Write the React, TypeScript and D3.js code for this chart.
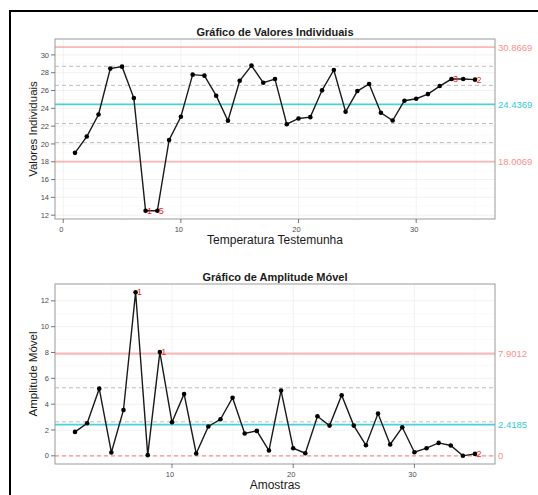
import React from "react";
import * as d3 from "d3";

// valores (amostras 1..35)
const individuais = [
  19.0, 20.83, 23.31, 28.46, 28.68, 25.15, 12.49, 12.49, 20.45, 23.05, 27.78,
  27.67, 25.42, 22.6, 27.1, 28.8, 26.88, 27.29, 22.22, 22.86, 23.01, 26.02,
  28.31, 23.61, 25.94, 26.73, 23.5, 22.63, 24.85, 25.08, 25.6, 26.5, 27.29,
  27.29, 27.22,
];
// amplitude móvel (amostras 2..35)
const amplitudes = [
  1.85, 2.52, 5.2, 0.26, 3.55, 12.67, 0.05, 8.03, 2.6, 4.79, 0.18, 2.27, 2.83,
  4.5, 1.73, 1.93, 0.41, 5.05, 0.59, 0.2, 3.06, 2.34, 4.69, 2.34, 0.82, 3.27,
  0.88, 2.21, 0.28, 0.59, 1.0, 0.8, 0.0, 0.15,
];

const limitesI = { lcl: 18.0069, cl: 24.4369, ucl: 30.8669 };
const limitesMR = { lcl: 0, cl: 2.4185, ucl: 7.9012 };

// linhas tracejadas (zonas 1 e 2 sigma)
const zonasI = [20.1502, 22.2936, 26.5802, 28.7236];
const zonasMR = [2.6337, 5.2675];

const violacoesI = [
  { amostra: 7, regra: "1" },
  { amostra: 8, regra: "5" },
  { amostra: 33, regra: "3" },
  { amostra: 35, regra: "2" },
];
const violacoesMR = [
  { amostra: 7, regra: "1" },
  { amostra: 9, regra: "1" },
  { amostra: 35, regra: "2" },
];

const ticksXI = [0, 10, 20, 30];
const ticksXMR = [10, 20, 30];
const ticksYI = [12, 14, 16, 18, 20, 22, 24, 26, 28, 30];
const ticksYMR = [0, 2, 4, 6, 8, 10, 12];

const FONT = "'Liberation Sans', Arial, sans-serif";
const RED = "#F8766D";
const CYAN = "#00BFC4";

type Ponto = { x: number; y: number };

const expand = (ext: [number, number]): [number, number] => {
  const p = (ext[1] - ext[0]) * 0.05;
  return [ext[0] - p, ext[1] + p];
};

function Painel({
  top,
  titulo,
  xLabel,
  yLabel,
  pontos,
  limites,
  zonas,
  lclDashed,
  violacoes,
  ticksX,
  ticksY,
}: {
  top: number;
  titulo: string;
  xLabel: string;
  yLabel: string;
  pontos: Ponto[];
  limites: { lcl: number; cl: number; ucl: number };
  zonas: number[];
  lclDashed: boolean;
  violacoes: { amostra: number; regra: string }[];
  ticksX: number[];
  ticksY: number[];
}) {
  const left = 55;
  const right = 495;
  const h = 180;
  const bottom = top + h;

  const x = d3
    .scaleLinear()
    .domain(expand(d3.extent(pontos, (d) => d.x) as [number, number]))
    .range([left, right]);
  const yVals = pontos.map((d) => d.y).concat([limites.lcl, limites.ucl]);
  const y = d3
    .scaleLinear()
    .domain(expand(d3.extent(yVals) as [number, number]))
    .range([bottom, top]);

  const [x0, x1] = x.domain();
  const [y0, y1] = y.domain();
  const minorX = d3.range(Math.ceil(x0 / 5) * 5, x1, 5).filter((v) => v % 10 !== 0);
  const minorY = d3.range(Math.ceil(y0), y1, 1).filter((v) => !ticksY.includes(v));

  const line = d3
    .line<Ponto>()
    .x((d) => x(d.x))
    .y((d) => y(d.y));

  const cx = (left + right) / 2;

  return (
    <g>
      <text x={cx} y={top - 3} textAnchor="middle" fontFamily={FONT} fontWeight="bold" fontSize={11} fill="#1a1a1a">
        {titulo}
      </text>
      <rect x={left} y={top} width={right - left} height={h} fill="#fff" />
      {minorX.map((v) => (
        <line key={"mx" + v} x1={x(v)} x2={x(v)} y1={top} y2={bottom} stroke="#f7f7f7" strokeWidth={0.6} />
      ))}
      {minorY.map((v) => (
        <line key={"my" + v} x1={left} x2={right} y1={y(v)} y2={y(v)} stroke="#f7f7f7" strokeWidth={0.6} />
      ))}
      {ticksX.map((v) => (
        <line key={"gx" + v} x1={x(v)} x2={x(v)} y1={top} y2={bottom} stroke="#eeeeee" strokeWidth={0.8} />
      ))}
      {ticksY.map((v) => (
        <line key={"gy" + v} x1={left} x2={right} y1={y(v)} y2={y(v)} stroke="#eeeeee" strokeWidth={0.8} />
      ))}
      {zonas.map((v, i) => (
        <line key={"z" + i} x1={left} x2={right} y1={y(v)} y2={y(v)} stroke="#bdbdbd" strokeWidth={1} strokeDasharray="4,3" />
      ))}
      <line x1={left} x2={right} y1={y(limites.ucl)} y2={y(limites.ucl)} stroke={RED} strokeOpacity={0.5} strokeWidth={1.8} />
      <line
        x1={left}
        x2={right}
        y1={y(limites.lcl)}
        y2={y(limites.lcl)}
        stroke={RED}
        strokeOpacity={lclDashed ? 0.8 : 0.5}
        strokeWidth={lclDashed ? 1.2 : 1.8}
        strokeDasharray={lclDashed ? "4,3" : undefined}
      />
      <line x1={left} x2={right} y1={y(limites.cl)} y2={y(limites.cl)} stroke={CYAN} strokeOpacity={0.7} strokeWidth={1.8} />
      <path d={line(pontos) || ""} fill="none" stroke="#1a1a1a" strokeWidth={1.4} />
      {pontos.map((d) => (
        <circle key={"p" + d.x} cx={x(d.x)} cy={y(d.y)} r={2.3} fill="#000" />
      ))}
      {violacoes.map((v) => {
        const p = pontos.find((d) => d.x === v.amostra)!;
        return (
          <text key={"v" + v.amostra} x={x(p.x) + 1.5} y={y(p.y)} dy="0.35em" fontFamily={FONT} fontSize={9} fill="#FF2020">
            {v.regra}
          </text>
        );
      })}
      <rect x={left} y={top} width={right - left} height={h} fill="none" stroke="#9a9a9a" strokeWidth={1} />
      {ticksY.map((v) => (
        <g key={"ty" + v}>
          <line x1={left - 4} x2={left} y1={y(v)} y2={y(v)} stroke="#555" strokeWidth={0.8} />
          <text x={left - 6} y={y(v)} dy="0.35em" textAnchor="end" fontFamily={FONT} fontSize={7.5} fill="#4d4d4d">
            {v}
          </text>
        </g>
      ))}
      {ticksX.map((v) => (
        <g key={"tx" + v}>
          <line x1={x(v)} x2={x(v)} y1={bottom} y2={bottom + 4} stroke="#555" strokeWidth={0.8} />
          <text x={x(v) - 2} y={bottom + 13} textAnchor="middle" fontFamily={FONT} fontSize={7.5} fill="#4d4d4d">
            {v}
          </text>
        </g>
      ))}
      {[
        { v: limites.ucl, c: "#FF8F8A", t: limites.ucl.toFixed(4) },
        { v: limites.cl, c: "#33CCD0", t: limites.cl.toFixed(4) },
        { v: limites.lcl, c: "#FF8F8A", t: limites.lcl === 0 ? "0" : limites.lcl.toFixed(4) },
      ].map((l) => (
        <text key={"l" + l.t} x={right + 3} y={y(l.v)} dy="0.35em" fontFamily={FONT} fontSize={9.5} fill={l.c}>
          {l.t}
        </text>
      ))}
      <text x={cx} y={bottom + 25} textAnchor="middle" fontFamily={FONT} fontSize={12} fill="#1a1a1a">
        {xLabel}
      </text>
      <text
        transform={`translate(${33},${(top + bottom) / 2}) rotate(-90)`}
        dy="0.35em"
        textAnchor="middle"
        fontFamily={FONT}
        fontSize={11.5}
        fill="#1a1a1a"
      >
        {yLabel}
      </text>
    </g>
  );
}

export default function App() {
  const pontosI = individuais.map((v, i) => ({ x: i + 1, y: v }));
  const pontosMR = amplitudes.map((v, i) => ({ x: i + 2, y: v }));
  return (
    <svg width={538} height={495} style={{ position: "absolute", left: 0, top: 0, background: "#fff" }}>
      <rect x={0} y={0} width={538} height={495} fill="#fff" />
      <line x1={10} x2={538} y1={11} y2={11} stroke="#000" strokeWidth={2} />
      <line x1={10} x2={10} y1={10} y2={495} stroke="#000" strokeWidth={2} />
      <Painel
        top={39}
        titulo="Gráfico de Valores Individuais"
        xLabel="Temperatura Testemunha"
        yLabel="Valores Individuais"
        pontos={pontosI}
        limites={limitesI}
        zonas={zonasI}
        lclDashed={false}
        violacoes={violacoesI}
        ticksX={ticksXI}
        ticksY={ticksYI}
      />
      <Painel
        top={284}
        titulo="Gráfico de Amplitude Móvel"
        xLabel="Amostras"
        yLabel="Amplitude Móvel"
        pontos={pontosMR}
        limites={limitesMR}
        zonas={zonasMR}
        lclDashed={true}
        violacoes={violacoesMR}
        ticksX={ticksXMR}
        ticksY={ticksYMR}
      />
    </svg>
  );
}
